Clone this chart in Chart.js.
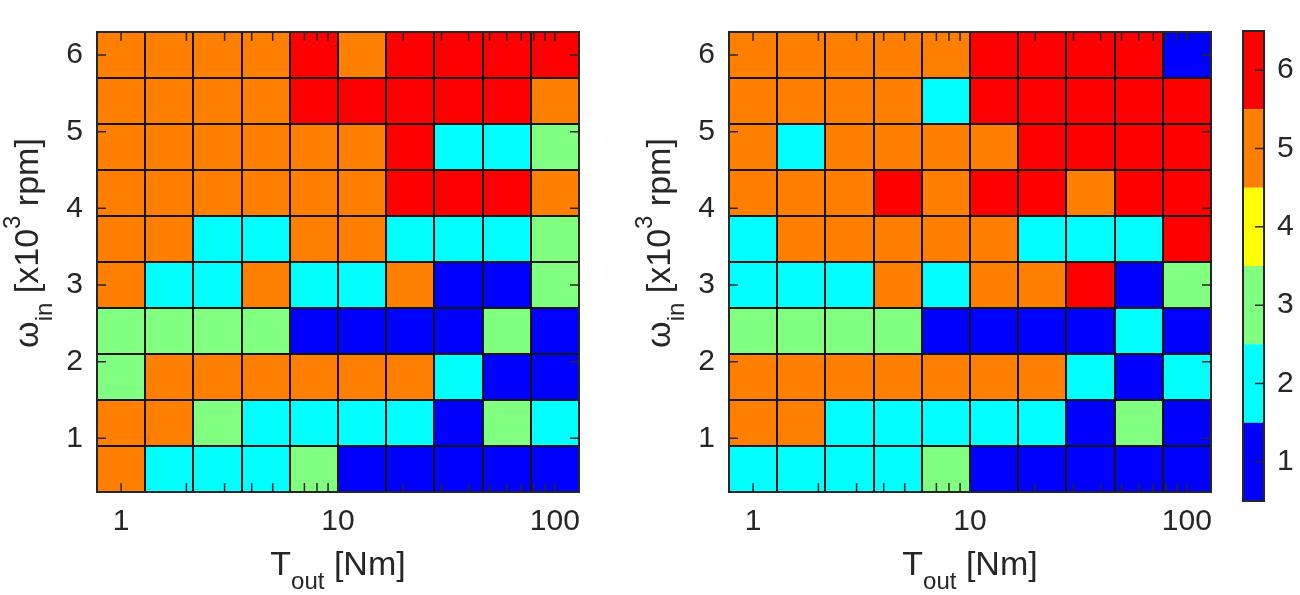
<!DOCTYPE html>
<html lang="en">
<head>
<meta charset="UTF-8">
<title>Heatmaps T_out vs w_in</title>
<script src="https://cdn.jsdelivr.net/npm/chart.js"></script>
<style>
  body { margin: 0; background: white; width: 1300px; height: 595px; position: relative; overflow: hidden;
         font-family: "Liberation Sans", Arial, sans-serif; color: #262626; }
  canvas { position: absolute; top: 0; }
  .xt { position: absolute; width: 400px; height: 40px; line-height: 40px; font-size: 34px;
        text-align: center; white-space: nowrap; }
  .yt { position: absolute; width: 400px; height: 40px; line-height: 40px; font-size: 34px;
        text-align: center; white-space: nowrap; transform: translate(-50%, -50%) rotate(-90deg); }
  sub, sup { font-size: 24px; line-height: 0; }
  sub { vertical-align: -14px; }
  sup { vertical-align: 18px; }
</style>
</head>
<body>

<canvas id="left" width="600" height="595" style="left:0px"></canvas>
<canvas id="right" width="600" height="595" style="left:630px"></canvas>
<canvas id="bar" width="70" height="595" style="left:1230px"></canvas>

<div class="xt" style="left:138px;top:543px">T<sub>out</sub> [Nm]</div>
<div class="xt" style="left:770px;top:543px">T<sub>out</sub> [Nm]</div>
<div class="yt" style="left:26px;top:243px">&omega;<sub>in</sub> [x10<sup>3</sup> rpm]</div>
<div class="yt" style="left:658px;top:243px">&omega;<sub>in</sub> [x10<sup>3</sup> rpm]</div>

<script>
// output torque (Nm), one per column
const toutNm = [1, 1.668, 2.783, 4.642, 7.743, 12.92, 21.54, 35.94, 59.95, 100];
// input speed (x10^3 rpm), one per row, bottom to top
const winKrpm = [0.6, 1.2, 1.8, 2.4, 3.0, 3.6, 4.2, 4.8, 5.4, 6.0];
const xTicks = [1, 10, 100];
const yTicks = [1, 2, 3, 4, 5, 6];
const xMarks = [1, 2, 3, 4, 5, 6, 7, 8, 9, 10, 20, 30, 40, 50, 60, 70, 80, 90, 100];
const levels = [1, 2, 3, 4, 5, 6];
const levelColors = ['#0000ff', '#00ffff', '#80ff80', '#ffff00', '#ff8000', '#ff0000'];

// rows from bottom (0.6) to top (6.0)
const mapLeft = [
  [5, 2, 2, 2, 3, 1, 1, 1, 1, 1],
  [5, 5, 3, 2, 2, 2, 2, 1, 3, 2],
  [3, 5, 5, 5, 5, 5, 5, 2, 1, 1],
  [3, 3, 3, 3, 1, 1, 1, 1, 3, 1],
  [5, 2, 2, 5, 2, 2, 5, 1, 1, 3],
  [5, 5, 2, 2, 5, 5, 2, 2, 2, 3],
  [5, 5, 5, 5, 5, 5, 6, 6, 6, 5],
  [5, 5, 5, 5, 5, 5, 6, 2, 2, 3],
  [5, 5, 5, 5, 6, 6, 6, 6, 6, 5],
  [5, 5, 5, 5, 6, 5, 6, 6, 6, 6]
];
const mapRight = [
  [2, 2, 2, 2, 3, 1, 1, 1, 1, 1],
  [5, 5, 2, 2, 2, 2, 2, 1, 3, 1],
  [5, 5, 5, 5, 5, 5, 5, 2, 1, 2],
  [3, 3, 3, 3, 1, 1, 1, 1, 2, 1],
  [2, 2, 2, 5, 2, 5, 5, 6, 1, 3],
  [2, 5, 5, 5, 5, 5, 2, 2, 2, 6],
  [5, 5, 5, 6, 5, 6, 6, 5, 6, 6],
  [5, 2, 5, 5, 5, 5, 6, 6, 6, 6],
  [5, 5, 5, 5, 2, 6, 6, 6, 6, 6],
  [5, 5, 5, 5, 5, 6, 6, 6, 6, 1]
];

const ink = '#262626';
const tickFont = { family: 'Liberation Sans', size: 30 };

// cell edges halfway (in log) between column centres
function logEdges(c) {
  const e = [];
  for (let i = 1; i < c.length; i++) e[i] = Math.sqrt(c[i - 1] * c[i]);
  e[0] = c[0] * c[0] / e[1];
  e[c.length] = c[c.length - 1] * c[c.length - 1] / e[c.length - 1];
  return e;
}
function linEdges(c) {
  const e = [];
  for (let i = 1; i < c.length; i++) e[i] = (c[i - 1] + c[i]) / 2;
  e[0] = 2 * c[0] - e[1];
  e[c.length] = 2 * c[c.length - 1] - e[c.length - 1];
  return e;
}

// black lines between cells (pcolor style edges)
const cellLines = {
  id: 'cellLines',
  afterDatasetsDraw(chart, args, o) {
    if (!o.xEdges) return;
    const { ctx, chartArea: a, scales } = chart;
    ctx.save();
    ctx.strokeStyle = '#141414';
    ctx.lineWidth = 2;
    ctx.beginPath();
    o.xEdges.forEach(v => {
      const px = Math.round(scales.x.getPixelForValue(v));
      ctx.moveTo(px, a.top); ctx.lineTo(px, a.bottom);
    });
    o.yEdges.forEach(v => {
      const py = Math.round(scales.y.getPixelForValue(v));
      ctx.moveTo(a.left, py); ctx.lineTo(a.right, py);
    });
    ctx.stroke();
    ctx.restore();
  }
};

// box + inward tick marks, matlab style
const frameTicks = {
  id: 'frameTicks',
  afterDraw(chart, args, o) {
    const { ctx, chartArea: a, scales } = chart;
    ctx.save();
    ctx.strokeStyle = ink;
    ctx.lineWidth = 1.5;
    ctx.beginPath();
    (o.xMarks || []).forEach(v => {
      const px = scales.x.getPixelForValue(v);
      ctx.moveTo(px, a.bottom); ctx.lineTo(px, a.bottom - o.len);
      ctx.moveTo(px, a.top); ctx.lineTo(px, a.top + o.len);
    });
    (o.yMarks || []).forEach(v => {
      const py = scales.y.getPixelForValue(v);
      if (o.leftMarks) { ctx.moveTo(a.left, py); ctx.lineTo(a.left + o.len, py); }
      ctx.moveTo(a.right, py); ctx.lineTo(a.right - o.len, py);
    });
    ctx.stroke();
    ctx.lineWidth = 2;
    ctx.strokeRect(a.left, a.top, a.right - a.left, a.bottom - a.top);
    ctx.restore();
  }
};

function heatChart(id, grid, yWidth, padRight) {
  const xe = logEdges(toutNm);
  const ye = linEdges(winKrpm);
  const cells = [], fills = [];
  grid.forEach((row, i) => row.forEach((v, j) => {
    cells.push({ x: [xe[j], xe[j + 1]], y: winKrpm[i] });
    fills.push(levelColors[levels.indexOf(v)]);
  }));
  return new Chart(document.getElementById(id), {
    type: 'bar',
    data: {
      datasets: [{
        data: cells,
        backgroundColor: fills,
        borderWidth: 0,
        inflateAmount: 0.5,
        barPercentage: 1,
        categoryPercentage: 1
      }]
    },
    options: {
      indexAxis: 'y',
      responsive: false,
      animation: false,
      events: [],
      layout: { padding: { top: 11, right: padRight, left: 0, bottom: 0 } },
      plugins: {
        legend: { display: false },
        tooltip: { enabled: false },
        cellLines: { xEdges: xe, yEdges: ye },
        frameTicks: { xMarks: xMarks, yMarks: yTicks, len: 9, leftMarks: true }
      },
      scales: {
        x: {
          type: 'logarithmic',
          min: xe[0],
          max: xe[xe.length - 1],
          grid: { display: false, drawTicks: false },
          border: { display: false },
          afterBuildTicks: s => { s.ticks = xTicks.map(v => ({ value: v })); },
          afterFit: s => { s.height = 103; },
          ticks: { autoSkip: false, maxRotation: 0, padding: 12, font: tickFont, color: ink,
                   callback: v => String(v) }
        },
        y: {
          type: 'linear',
          min: ye[0],
          max: ye[ye.length - 1],
          offset: false,
          grid: { display: false, drawTicks: false, offset: false },
          border: { display: false },
          afterBuildTicks: s => { s.ticks = yTicks.map(v => ({ value: v })); },
          afterFit: s => { s.width = yWidth; },
          ticks: { autoSkip: false, padding: 14, font: tickFont, color: ink,
                   callback: v => String(v) }
        }
      }
    },
    plugins: [cellLines, frameTicks]
  });
}

heatChart('left', mapLeft, 97, 21);
heatChart('right', mapRight, 99, 19);

// colour bar
new Chart(document.getElementById('bar'), {
  type: 'bar',
  data: {
    labels: [''],
    datasets: levels.map((v, k) => ({
      data: [[v - 0.5, v + 0.5]],
      backgroundColor: levelColors[k],
      borderWidth: 0,
      grouped: false,
      inflateAmount: 0,
      barPercentage: 1,
      categoryPercentage: 1
    }))
  },
  options: {
    responsive: false,
    animation: false,
    events: [],
    layout: { padding: { left: 13, top: 3, bottom: 94, right: 0 } },
    plugins: {
      legend: { display: false },
      tooltip: { enabled: false },
      frameTicks: { yMarks: levels, len: 9, leftMarks: false }
    },
    scales: {
      x: { display: false },
      y: {
        position: 'right',
        min: levels[0] - 0.5,
        max: levels[levels.length - 1] + 0.5,
        grid: { display: false, drawTicks: false },
        border: { display: false },
        afterBuildTicks: s => { s.ticks = levels.map(v => ({ value: v })); },
        afterFit: s => { s.width = 36; },
        ticks: { autoSkip: false, padding: 13, font: tickFont, color: ink,
                 callback: v => String(v) }
      }
    }
  },
  plugins: [frameTicks]
});
</script>

</body>
</html>
